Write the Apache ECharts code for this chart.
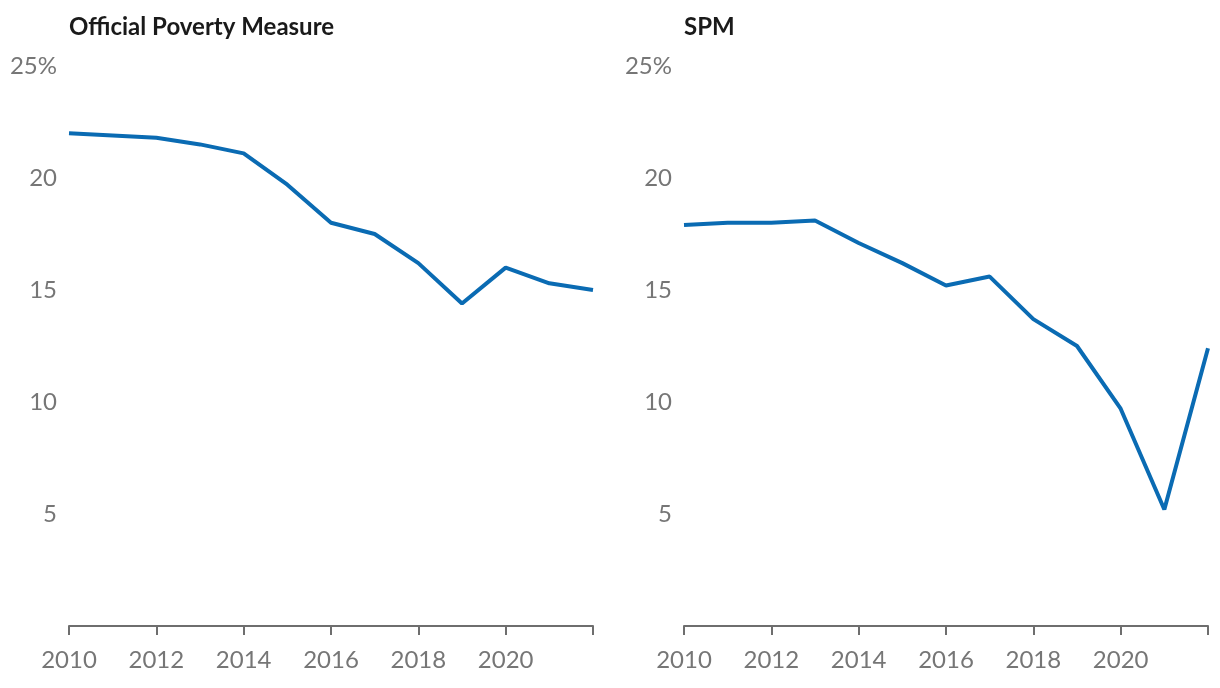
<!DOCTYPE html>
<html>
<head>
<meta charset="utf-8">
<script src="https://cdn.jsdelivr.net/npm/echarts@6/dist/echarts.min.js"></script>
<style>
html,body{margin:0;padding:0;background:#fff;}
#chart{width:1220px;height:688px;}
</style>
</head>
<body>
<div id="chart"></div>
<script>
const years = [2010,2011,2012,2013,2014,2015,2016,2017,2018,2019,2020,2021,2022];
const officialRate = [22.0,21.9,21.8,21.5,21.1,19.7,18.0,17.5,16.2,14.4,16.0,15.3,15.0];
const spmRate = [17.9,18.0,18.0,18.1,17.1,16.2,15.2,15.6,13.7,12.5,9.7,5.2,12.4];
const panelTitles = ['Official Poverty Measure','SPM'];
const yTicks = [0,5,10,15,20,25];
const xTickLabels = ['2010','2012','2014','2016','2018','2020'];

const FONT = 'Lato, "Noto Sans", sans-serif';
const lineColor = '#0a6bb3';

function pairs(vals){ return years.map((y,i)=>[y,vals[i]]); }

function xAxis(gi){
  return {
    type:'value', gridIndex:gi, min:2010, max:2022, interval:2,
    axisLine:{show:true,lineStyle:{color:'#6e6e6e',width:2}},
    axisTick:{show:true,length:9,lineStyle:{color:'#6e6e6e',width:2}},
    splitLine:{show:false},
    axisLabel:{
      color:'#767676', fontFamily:FONT, fontSize:24, margin:22,
      formatter:v=>xTickLabels.includes(String(v))?String(v):''
    }
  };
}
function yAxis(gi){
  return {
    type:'value', gridIndex:gi, min:yTicks[0], max:yTicks[yTicks.length-1], interval:5,
    axisLine:{show:false}, axisTick:{show:false}, splitLine:{show:false},
    axisLabel:{
      color:'#767676', fontFamily:FONT, fontSize:24, margin:12,
      formatter:v=>v===0?'':(v===25?'25%':String(v))
    }
  };
}

const chart = echarts.init(document.getElementById('chart'));
chart.setOption({
  animation:false,
  backgroundColor:'#fff',
  title:[
    {text:panelTitles[0], left:64, top:10, textStyle:{fontFamily:FONT,fontWeight:'bold',fontSize:24,color:'#1a1a1a'}},
    {text:panelTitles[1], left:679, top:10, textStyle:{fontFamily:FONT,fontWeight:'bold',fontSize:24,color:'#1a1a1a'}}
  ],
  grid:[
    {left:69, right:627, top:66, bottom:62},
    {left:684, right:12, top:66, bottom:62}
  ],
  xAxis:[xAxis(0),xAxis(1)],
  yAxis:[yAxis(0),yAxis(1)],
  series:[
    {type:'line', xAxisIndex:0, yAxisIndex:0, data:pairs(officialRate), showSymbol:false, lineStyle:{color:lineColor,width:4}},
    {type:'line', xAxisIndex:1, yAxisIndex:1, data:pairs(spmRate), showSymbol:false, lineStyle:{color:lineColor,width:4}}
  ]
});
</script>
</body>
</html>
